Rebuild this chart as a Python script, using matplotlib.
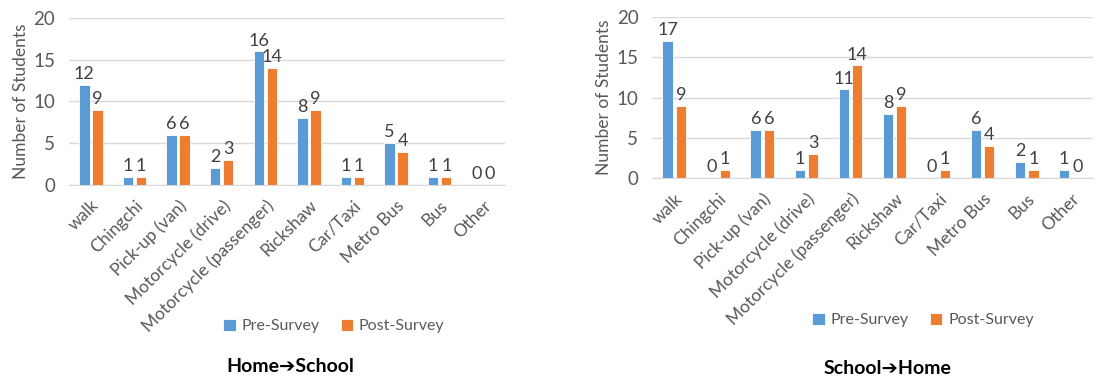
import numpy as np
import matplotlib
matplotlib.use("Agg")
import matplotlib.pyplot as plt

plt.rcParams['font.family'] = ['Lato', 'DejaVu Sans']

# Travel mode counts
modes = ["walk", "Chingchi", "Pick-up (van)", "Motorcycle (drive)",
         "Motorcycle (passenger)", "Rickshaw", "Car/Taxi", "Metro Bus",
         "Bus", "Other"]
home_school_pre = [12, 1, 6, 2, 16, 8, 1, 5, 1, 0]
home_school_post = [9, 1, 6, 3, 14, 9, 1, 4, 1, 0]
school_home_pre = [17, 0, 6, 1, 11, 8, 0, 6, 2, 1]
school_home_post = [9, 1, 6, 3, 14, 9, 1, 4, 1, 0]

blue = "#5B9BD5"
orange = "#ED7D31"
grey = "#595959"
grid = "#D9D9D9"

fig = plt.figure(figsize=(11.15, 3.78), dpi=100)
ax1 = fig.add_axes([0.062, 0.511, 0.391, 0.441])
ax2 = fig.add_axes([0.585, 0.529, 0.395, 0.426])

def draw(ax, pre, post):
    x = np.arange(len(modes))
    w = 0.24
    b1 = ax.bar(x - 0.15, pre, w, color=blue, edgecolor="white", linewidth=0.6, label="Pre-Survey")
    b2 = ax.bar(x + 0.15, post, w, color=orange, edgecolor="white", linewidth=0.6, label="Post-Survey")
    ax.bar_label(b1, padding=2, fontsize=13, color="#404040")
    ax.bar_label(b2, padding=2, fontsize=13, color="#404040")
    ax.set_xlim(-0.5, len(modes) - 0.5)
    ax.set_ylim(0, 20)
    ax.set_yticks([0, 5, 10, 15, 20])
    ax.yaxis.grid(True, color=grid, linewidth=1)
    ax.set_axisbelow(True)
    for s in ["top", "right", "left"]:
        ax.spines[s].set_visible(False)
    ax.spines["bottom"].set_color(grid)
    ax.set_xticks(x)
    ax.set_xticklabels(modes, rotation=45, ha="right", rotation_mode="anchor")
    ax.tick_params(axis="both", length=0, labelsize=12.5, colors=grey, pad=9)
    ax.tick_params(axis="y", labelsize=13.5, pad=10)
    ax.set_ylabel("Number of Students", fontsize=12.5, color=grey, labelpad=3)
    return b1, b2

h = draw(ax1, home_school_pre, home_school_post)
draw(ax2, school_home_pre, school_home_post)

leg_kw = dict(loc="center", ncol=2, frameon=False, fontsize=11.5, handlelength=0.8,
              handleheight=0.8, handletextpad=0.35, columnspacing=1.3, labelcolor=grey)
fig.legend(h, ["Pre-Survey", "Post-Survey"], bbox_to_anchor=(334 / 1115, 1 - 326 / 378), **leg_kw)
fig.legend(h, ["Pre-Survey", "Post-Survey"], bbox_to_anchor=(923 / 1115, 1 - 320 / 378), **leg_kw)

fig.text(290 / 1115, 1 - 366 / 378, "Home➔School", ha="center", va="center",
         fontsize=14, fontweight="bold")
fig.text(888 / 1115, 1 - 368 / 378, "School➔Home", ha="center", va="center",
         fontsize=14, fontweight="bold")

fig.savefig("out.png", dpi=100)
